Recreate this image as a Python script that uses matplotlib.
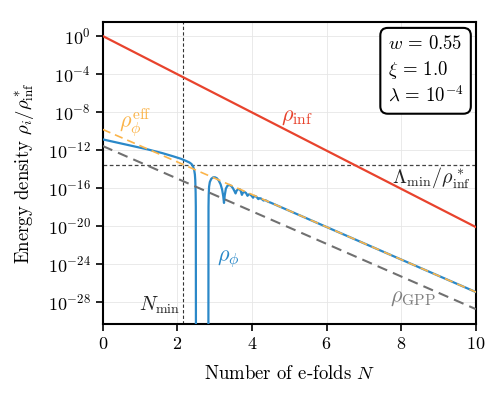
import numpy as np
import matplotlib
matplotlib.use("Agg")
import matplotlib.pyplot as plt
from matplotlib.ticker import NullLocator

plt.rcParams['font.family'] = 'serif'
plt.rcParams['font.serif'] = ['cmr10', 'DejaVu Serif']
plt.rcParams['mathtext.fontset'] = 'cm'
plt.rcParams['axes.formatter.use_mathtext'] = True
plt.rcParams['font.size'] = 13

# straight lines on the log axis: values at N = 0 and N = 10 (log10)
N_ends = [0.0, 10.0]
log_rho_inf = [0.0, -20.15]
log_rho_eff = [-9.85, -27.0]
log_rho_gpp = [-11.6, -28.8]

# rho_phi (log10), nan marks the gap where it goes negative
blue_N = [0.0, 0.4, 0.8, 1.2, 1.6, 1.9, 2.1, 2.25, 2.33, 2.38, 2.42, 2.45, 2.47,
          2.48, 2.49, 2.495, 2.50, np.nan,
          2.83, 2.835, 2.84, 2.85, 2.87, 2.91, 2.96, 3.01, 3.06, 3.11, 3.16,
          3.20, 3.23, 3.25, 3.27, 3.30, 3.34, 3.39, 3.44, 3.49, 3.53, 3.56,
          3.59, 3.63, 3.67, 3.70, 3.73, 3.76, 3.80, 3.84, 3.88, 3.91, 3.95,
          3.99, 4.03, 4.06, 4.10, 4.14, 4.17, 4.20, 4.24, 4.28, 4.31, 4.34,
          4.38, 4.42, 4.45, 4.50, 10.0]
blue_log = [-10.9, -11.25, -11.6, -11.95, -12.35, -12.7, -12.95, -13.2, -13.35,
            -13.5, -13.75, -14.1, -14.6, -15.2, -16.5, -18.0, -40.0, np.nan,
            -40.0, -18.0, -16.8, -15.9, -15.4, -15.05, -14.9, -14.9, -15.0,
            -15.25, -15.65, -16.2, -16.9, -17.6, -16.8, -16.1, -15.8, -15.7,
            -15.8, -16.05, -16.35, -16.6, -16.3, -16.15, -16.15, -16.35, -16.75,
            -16.5, -16.45, -16.55, -16.85, -16.7, -16.7, -16.85, -17.05, -16.85,
            -16.9, -17.05, -17.2, -17.1, -17.13, -17.25, -17.35, -17.3, -17.35,
            -17.45, -17.5, -17.57, -27.0]

N_min = 2.16
log_lambda_min = -13.55
y_ticks = [1e0, 1e-4, 1e-8, 1e-12, 1e-16, 1e-20, 1e-24, 1e-28]
x_ticks = [0, 2, 4, 6, 8, 10]

c_red = '#e8432d'
c_blue = '#2a88c8'
c_orange = '#fbb44a'
c_gray = '#707070'

fig = plt.figure(figsize=(5.02, 3.96), dpi=100)
ax = fig.add_axes([0.2046, 0.181, 0.7434, 0.764])

ax.plot(N_ends, 10.0 ** np.array(log_rho_inf), color=c_red, lw=1.6, zorder=3)
ax.plot(blue_N, 10.0 ** np.array(blue_log), color=c_blue, lw=1.6, zorder=3)
ax.plot(N_ends, 10.0 ** np.array(log_rho_eff), color=c_orange, lw=1.2,
        ls=(0, (5, 3)), zorder=4)
ax.plot(N_ends, 10.0 ** np.array(log_rho_gpp), color=c_gray, lw=1.5,
        ls=(0, (5, 3)), zorder=3)

ax.axvline(N_min, color='#333333', lw=0.8, ls=(0, (3, 2)), zorder=2)
ax.axhline(10.0 ** log_lambda_min, color='#444444', lw=0.9, ls=(0, (3, 2)), zorder=2)

ax.set_yscale('log')
ax.set_xlim(0, 10)
ax.set_ylim(10 ** -30.4, 10 ** 1.5)
ax.set_yticks(y_ticks)
ax.set_xticks(x_ticks)
ax.yaxis.set_minor_locator(NullLocator())
ax.grid(True, color='#e6e6e6', lw=0.6)
ax.set_axisbelow(True)
ax.tick_params(direction='out', length=5, width=1.2, labelsize=13)
for s in ax.spines.values():
    s.set_linewidth(1.5)

ax.set_xlabel('Number of e-folds $N$', fontsize=13.5, labelpad=9)
ax.set_ylabel(r'Energy density $\rho_i/\rho^*_{\rm inf}$', fontsize=13.5, labelpad=9)

ax.text(5.21, 10 ** -8.58, r'$\rho_{\rm inf}$', color=c_red, fontsize=16,
        ha='center', va='center')
ax.text(0.86, 10 ** -9.1, r'$\rho_\phi^{\rm eff}$', color=c_orange, fontsize=16,
        ha='center', va='center')
ax.text(8.8, 10 ** -15.0, r'$\Lambda_{\rm min}/\rho^*_{\rm inf}$', color='#222222',
        fontsize=14.5, ha='center', va='center')
ax.text(3.37, 10 ** -23.55, r'$\rho_\phi$', color=c_blue, fontsize=16,
        ha='center', va='center')
ax.text(1.52, 10 ** -28.4, r'$N_{\rm min}$', color='#222222', fontsize=14.5,
        ha='center', va='center')
ax.text(8.32, 10 ** -27.6, r'$\rho_{\rm GPP}$', color='#808080', fontsize=16,
        ha='center', va='center')

ax.text(0.764, 0.955, '$w\\,=\\,0.55$\n$\\xi\\,=\\,1.0$\n$\\lambda\\,=\\,10^{-4}$',
        transform=ax.transAxes, ha='left', va='top', fontsize=13.5,
        linespacing=1.32,
        bbox=dict(boxstyle='round,pad=0.4', fc='white', ec='black', lw=1.5))

fig.savefig('out.png', dpi=100)
